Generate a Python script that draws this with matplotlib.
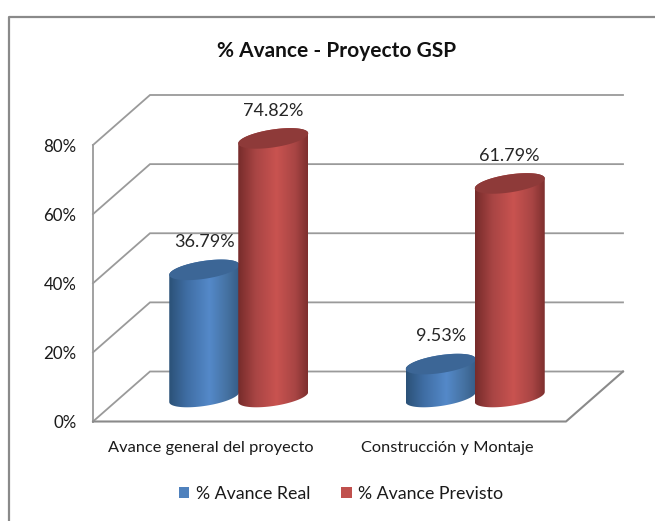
import numpy as np
import matplotlib
matplotlib.use("Agg")
import matplotlib.pyplot as plt
from matplotlib.patches import Patch, PathPatch
from matplotlib.path import Path
from matplotlib.colors import LinearSegmentedColormap

categories = ["Avance general del proyecto", "Construcción y Montaje"]
series_names = ["% Avance Real", "% Avance Previsto"]
avance_real = [36.79, 9.53]
avance_previsto = [74.82, 61.79]
y_ticks = [0, 20, 40, 60, 80]

plt.rcParams["font.family"] = ["Lato", "DejaVu Sans"]

W, H = 655, 521
fig = plt.figure(figsize=(W / 100, H / 100), dpi=100, facecolor="white")
ax = fig.add_axes([93 / W, (H - 421.5) / H, (566 - 93) / W, (421.5 - 145) / H])
ax.set_xlim(-0.5, 1.5)
ax.set_ylim(0, 80)
PX_X = 473 / 2.0
PX_Y = 276.5 / 80
DX, DY = 57 / PX_X, 50 / PX_Y
GRID = "#9a9a9a"

# walls
for t in y_ticks:
    ax.plot([-0.5, -0.5 + DX, 1.5 + DX], [t, t + DY, t + DY], color=GRID, lw=1.3,
            clip_on=False, zorder=1, solid_joinstyle="miter")
ax.plot([-0.5, -0.5], [0, 80], color=GRID, lw=1.3, clip_on=False, zorder=1)
ax.plot([-0.5, 1.5, 1.5 + DX], [0, 0, DY], color="#8a8a8a", lw=1.5, clip_on=False, zorder=1)

side_cmap = {
    0: LinearSegmentedColormap.from_list("b", [(0, "#2b5177"), (0.25, "#3f6da3"), (0.58, "#5489c9"), (0.85, "#44709f"), (1, "#365d88")]),
    1: LinearSegmentedColormap.from_list("r", [(0, "#762b2a"), (0.25, "#a84544"), (0.55, "#c95350"), (0.82, "#a84544"), (1, "#7e2f2e")]),
}
top_color = {0: "#3c6696", 1: "#8e3a39"}

A = 35 / PX_X
B = 9.0 / PX_Y
K = 5.0 / PX_Y
CX_SHIFT = 27.5 / PX_X
BASE = 24.5 / PX_Y
GAP = 34.5 / PX_X


def ellipse(cx, cy, t):
    return cx + A * np.cos(t), cy + B * np.sin(t) + K * np.cos(t)


def cylinder(cx, val, s, z):
    top = BASE + val
    tb = np.linspace(np.pi, 2 * np.pi, 60)
    xb, yb = ellipse(cx, BASE, tb)
    tt = np.linspace(0, np.pi, 60)
    xt, yt = ellipse(cx, top, tt)
    path = Path(np.c_[np.r_[xb, xt], np.r_[yb, yt]])
    body = PathPatch(path, fc="none", ec="none", transform=ax.transData, zorder=z)
    ax.add_patch(body)
    grad = np.linspace(0, 1, 256).reshape(1, -1)
    im = ax.imshow(grad, cmap=side_cmap[s], extent=[cx - A, cx + A, BASE - 5, top + 10],
                   aspect="auto", zorder=z, interpolation="bilinear")
    im.set_clip_path(body)
    im.set_clip_box(fig.bbox)
    tf = np.linspace(0, 2 * np.pi, 100)
    xf, yf = ellipse(cx, top, tf)
    ax.fill(xf, yf, color=top_color[s], lw=0, clip_on=False, zorder=z + 0.1)
    ax.annotate(f"{val:.2f}%", (cx, top), xytext=(0, 20), textcoords="offset points",
                ha="center", va="center", fontsize=13, color="#262626",
                annotation_clip=False, zorder=10)


for i in range(len(categories)):
    center = i + CX_SHIFT
    cylinder(center - GAP, avance_real[i], 0, 3)
    cylinder(center + GAP, avance_previsto[i], 1, 4)

ax.set_xlim(-0.5, 1.5)
ax.set_ylim(0, 80)
ax.set_xticks(range(len(categories)), categories, fontsize=11.8, color="#1a1a1a")
ax.set_yticks(y_ticks, [f"{t}%" for t in y_ticks], fontsize=12.2, color="#1a1a1a")
ax.tick_params(axis="x", length=0, pad=14)
ax.tick_params(axis="y", length=0, pad=12)
for sp in ax.spines.values():
    sp.set_visible(False)
ax.patch.set_alpha(0)

fig.text(337 / W, 1 - 51 / H, "% Avance - Proyecto GSP", ha="center", va="center",
         fontsize=15, fontweight="bold", color="#111111")

handles = [Patch(fc="#4f81bd", label=series_names[0]), Patch(fc="#c0504d", label=series_names[1])]
fig.legend(handles=handles, loc="center", bbox_to_anchor=(341 / W, 1 - 494 / H), ncol=2,
           frameon=False, fontsize=12.8, handlelength=0.6, handleheight=0.6,
           handletextpad=0.35, columnspacing=1.75, labelcolor="#1a1a1a")

# chart frame
fig.add_artist(plt.Line2D([9 / W, 9 / W, 1], [0, 1 - 17 / H, 1 - 17 / H], color="#8a8a8a", lw=1.6))

fig.savefig("out.png", dpi=100, facecolor="white")
